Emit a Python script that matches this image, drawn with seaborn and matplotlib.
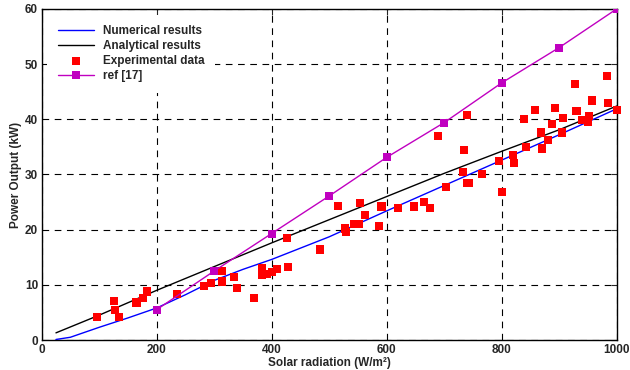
import numpy as np
import pandas as pd
import matplotlib
matplotlib.use("Agg")
import matplotlib.pyplot as plt
import seaborn as sns

# numerical results (blue)
num_x = [25, 50, 100, 150, 200, 250, 300, 350, 400, 500, 600, 700, 800, 900, 1000]
num_y = [0.1, 0.5, 2.3, 4.0, 5.8, 8.2, 10.8, 12.8, 14.6, 18.7, 23.4, 28.0, 32.6, 37.2, 41.9]

# analytical results (black)
ana_x = [25, 100, 200, 300, 400, 500, 600, 700, 800, 900, 1000]
ana_y = [1.3, 4.5, 9.0, 13.3, 17.6, 21.8, 26.0, 30.2, 34.2, 38.1, 42.4]

# ref [17] (magenta)
ref_x = [200, 300, 400, 500, 600, 700, 800, 900, 1000]
ref_y = [5.5, 12.5, 19.3, 26.1, 33.1, 39.4, 46.6, 53.0, 60.0]

# experimental data (red squares)
exp_x = [97, 126, 128, 135, 165, 177, 183, 236, 283, 294, 313, 314, 335, 340,
         370, 383, 383, 392, 401, 410, 426, 429, 484, 516, 527, 529, 543, 552,
         554, 562, 587, 591, 620, 648, 665, 675, 689, 703, 733, 735, 740, 740,
         743, 765, 795, 801, 819, 822, 838, 842, 858, 869, 870, 881, 888, 892,
         905, 907, 927, 930, 940, 950, 952, 957, 983, 985, 1000]
exp_y = [4.2, 7.1, 5.4, 4.2, 6.8, 7.6, 8.8, 8.3, 9.8, 10.3, 12.5, 10.6, 11.4, 9.5,
         7.6, 13.0, 11.8, 12.0, 12.4, 12.8, 18.5, 13.2, 16.4, 24.3, 20.2, 19.5, 21.0, 21.0,
         24.9, 22.6, 20.7, 24.2, 24.0, 24.2, 25.0, 23.9, 36.9, 27.8, 30.5, 34.5, 40.7, 28.5,
         28.4, 30.1, 32.4, 26.8, 33.5, 32.1, 40.0, 34.9, 41.6, 37.6, 34.7, 36.2, 39.1, 42.1,
         37.6, 40.2, 46.4, 41.5, 39.9, 39.6, 40.6, 43.4, 47.9, 43.0, 41.6]

sns.set_style("white")
plt.rcParams["font.family"] = ["Liberation Sans", "DejaVu Sans"]
plt.rcParams["font.weight"] = "bold"
plt.rcParams["font.size"] = 8.5

fig = plt.figure(figsize=(6.3, 3.7), dpi=100)
ax = fig.add_axes([0.066, 0.081, 0.913, 0.895])

df_num = pd.DataFrame({"x": num_x, "y": num_y})
df_ana = pd.DataFrame({"x": ana_x, "y": ana_y})
df_ref = pd.DataFrame({"x": ref_x, "y": ref_y})
df_exp = pd.DataFrame({"x": exp_x, "y": exp_y})

sns.lineplot(data=df_num, x="x", y="y", ax=ax, color="#0000ff", linewidth=1.0,
             label="Numerical results", zorder=3)
sns.lineplot(data=df_ana, x="x", y="y", ax=ax, color="black", linewidth=1.0,
             label="Analytical results", zorder=3)
sns.scatterplot(data=df_exp, x="x", y="y", ax=ax, color="#ff0000", marker="s",
                s=34, edgecolor="none", label="Experimental data", zorder=4,
                clip_on=False)
sns.lineplot(data=df_ref, x="x", y="y", ax=ax, color="#c000c0", linewidth=1.0,
             marker="s", markersize=6, markeredgewidth=0,
             label="ref [17]", zorder=5)

ax.set_xlim(0, 1000)
ax.set_ylim(0, 60)
ax.set_xticks(range(0, 1001, 200))
ax.set_yticks(range(0, 61, 10))
ax.grid(True, color="black", linestyle=(0, (6, 5)), linewidth=0.8)
ax.set_axisbelow(True)
ax.tick_params(direction="in", length=4, width=0.8, top=True, right=True,
               labelsize=8.5, pad=2.5)
for s in ax.spines.values():
    s.set_color("black")
    s.set_linewidth(1.0)

ax.set_xlabel("Solar radiation (W/m²)", fontweight="bold", fontsize=8.5)
ax.xaxis.set_label_coords(0.5, -0.05)
ax.xaxis.label.set_va("top")
ax.set_ylabel("Power Output (kW)", fontweight="bold", fontsize=8.5, labelpad=2)

leg = ax.legend(loc="upper left", bbox_to_anchor=(0.0, 1.0), frameon=True,
                facecolor="white", edgecolor="none", framealpha=1.0,
                handlelength=3.0, labelspacing=0.25, borderpad=0.9,
                prop={"weight": "bold", "size": 8.5})
leg.set_zorder(6)

fig.savefig("out.png", dpi=100)
